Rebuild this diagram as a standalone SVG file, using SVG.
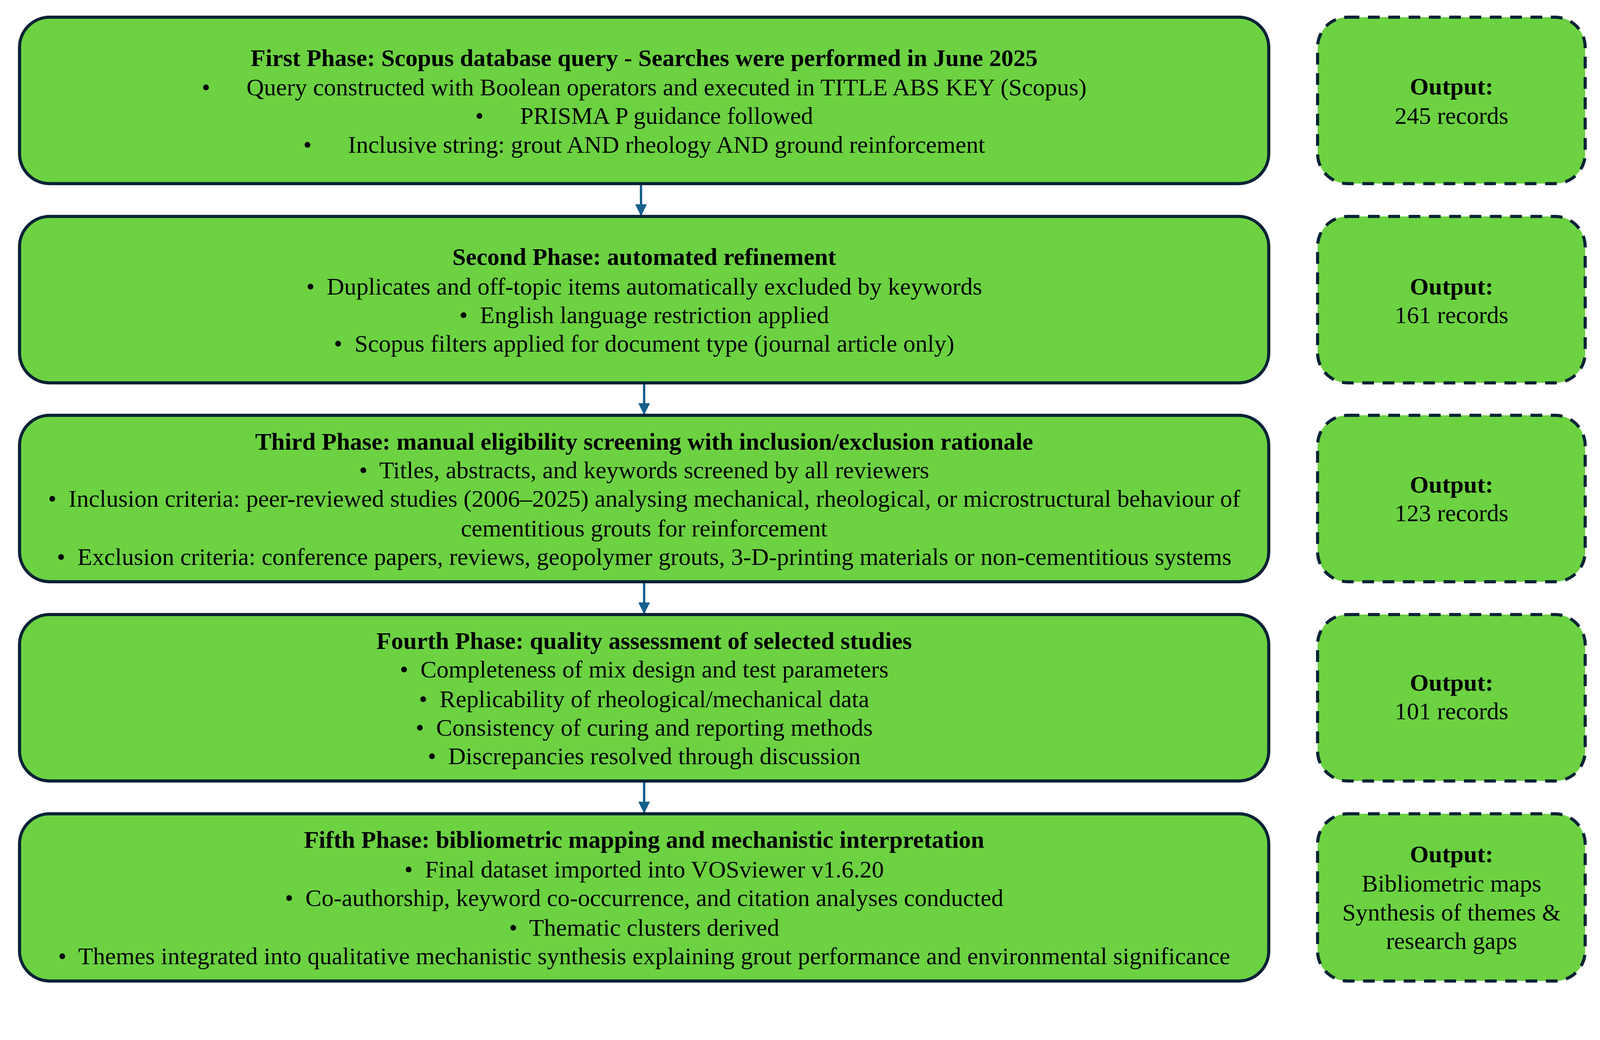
<svg xmlns="http://www.w3.org/2000/svg" width="4271" height="2662" viewBox="0 0 4271 2662">
<style>
.ph{fill:#6cd242;stroke:#0a2236;stroke-width:8}
.out{fill:#6cd242;stroke:#0a2236;stroke-width:8;stroke-dasharray:30 22}
text{font-family:"Liberation Serif","Times New Roman",serif;font-size:62px;fill:#000;text-anchor:middle;white-space:pre}
.b{font-weight:bold}
.c{stroke:#15608c;stroke-width:6;fill:none}
</style>
<defs><marker id="ah" viewBox="0 0 10 10" refX="9" refY="5" markerWidth="5" markerHeight="6" orient="auto"><path d="M0,0 L10,5 L0,10 z" fill="#15608c"/></marker></defs>
<rect width="4271" height="2662" fill="#fff"/>
<g id="connectors">
<line class="c" x1="1641" y1="474" x2="1641" y2="550" marker-end="url(#ah)"/>
<line class="c" x1="1649" y1="984" x2="1649" y2="1059" marker-end="url(#ah)"/>
<line class="c" x1="1649" y1="1493" x2="1649" y2="1569" marker-end="url(#ah)"/>
<line class="c" x1="1649" y1="2003" x2="1649" y2="2079" marker-end="url(#ah)"/>
</g>
<g id="phase1"><rect class="ph" x="50" y="44" width="3198" height="426" rx="77"/>
<text x="1649" y="169" class="b">First Phase: Scopus database query - Searches were performed in June 2025</text>
<text x="1649" y="244">•      Query constructed with Boolean operators and executed in TITLE ABS KEY (Scopus)</text>
<text x="1649" y="317">•      PRISMA P guidance followed</text>
<text x="1649" y="391">•      Inclusive string: grout AND rheology AND ground reinforcement</text></g>
<g id="out1"><rect class="out" x="3373" y="44" width="685" height="426" rx="77"/>
<text x="3716" y="242" class="b">Output:</text><text x="3716" y="317">245 records</text></g>
<g id="phase2"><rect class="ph" x="50" y="554" width="3198" height="426" rx="77"/>
<text x="1649" y="678" class="b">Second Phase: automated refinement</text>
<text x="1649" y="754">•  Duplicates and off-topic items automatically excluded by keywords</text>
<text x="1649" y="827">•  English language restriction applied</text>
<text x="1649" y="900">•  Scopus filters applied for document type (journal article only)</text></g>
<g id="out2"><rect class="out" x="3373" y="554" width="685" height="426" rx="77"/>
<text x="3716" y="754" class="b">Output:</text><text x="3716" y="827">161 records</text></g>
<g id="phase3"><rect class="ph" x="50" y="1063" width="3198" height="426" rx="77"/>
<text x="1649" y="1151" class="b">Third Phase: manual eligibility screening with inclusion/exclusion rationale</text>
<text x="1649" y="1224">•  Titles, abstracts, and keywords screened by all reviewers</text>
<text x="1649" y="1297">•  Inclusion criteria: peer-reviewed studies (2006–2025) analysing mechanical, rheological, or microstructural behaviour of</text>
<text x="1649" y="1373">cementitious grouts for reinforcement</text>
<text x="1649" y="1446">•  Exclusion criteria: conference papers, reviews, geopolymer grouts, 3-D-printing materials or non-cementitious systems</text></g>
<g id="out3"><rect class="out" x="3373" y="1063" width="685" height="426" rx="77"/>
<text x="3716" y="1261" class="b">Output:</text><text x="3716" y="1334">123 records</text></g>
<g id="phase4"><rect class="ph" x="50" y="1573" width="3198" height="426" rx="77"/>
<text x="1649" y="1661" class="b">Fourth Phase: quality assessment of selected studies</text>
<text x="1649" y="1734">•  Completeness of mix design and test parameters</text>
<text x="1649" y="1810">•  Replicability of rheological/mechanical data</text>
<text x="1649" y="1883">•  Consistency of curing and reporting methods</text>
<text x="1649" y="1956">•  Discrepancies resolved through discussion</text></g>
<g id="out4"><rect class="out" x="3373" y="1573" width="685" height="426" rx="77"/>
<text x="3716" y="1768" class="b">Output:</text><text x="3716" y="1841">101 records</text></g>
<g id="phase5"><rect class="ph" x="50" y="2083" width="3198" height="428" rx="77"/>
<text x="1649" y="2170" class="b">Fifth Phase: bibliometric mapping and mechanistic interpretation</text>
<text x="1649" y="2246">•  Final dataset imported into VOSviewer v1.6.20</text>
<text x="1649" y="2319">•  Co-authorship, keyword co-occurrence, and citation analyses conducted</text>
<text x="1649" y="2395">•  Thematic clusters derived</text>
<text x="1649" y="2468">•  Themes integrated into qualitative mechanistic synthesis explaining grout performance and environmental significance</text></g>
<g id="out5"><rect class="out" x="3373" y="2083" width="685" height="428" rx="77"/>
<text x="3716" y="2207" class="b">Output:</text><text x="3716" y="2282">Bibliometric maps</text><text x="3716" y="2356">Synthesis of themes &amp;</text><text x="3716" y="2429">research gaps</text></g>
</svg>
